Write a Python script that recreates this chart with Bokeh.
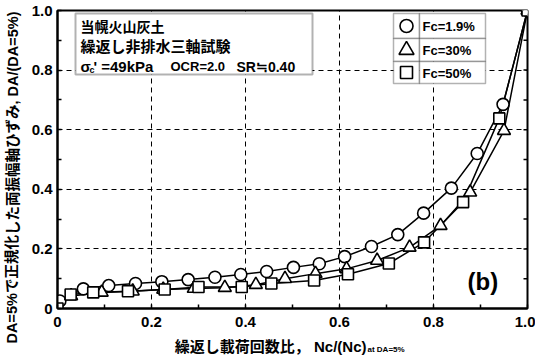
from bokeh.plotting import figure
from bokeh.models import (Range1d, LinearAxis, FixedTicker, Label, BoxAnnotation, Grid)
from bokeh.embed import file_html
from bokeh.resources import INLINE

# Normalised cycle ratio Nc/(Nc)at DA=5% and normalised double-amplitude strain DA/(DA=5%)
fc19_x = [0.005, 0.055, 0.109, 0.166, 0.222, 0.278, 0.335, 0.390, 0.445, 0.502,
          0.557, 0.611, 0.668, 0.724, 0.779, 0.838, 0.893, 0.948, 1.0]
fc19_y = [0.025, 0.066, 0.077, 0.084, 0.090, 0.097, 0.105, 0.114, 0.124, 0.138,
          0.150, 0.174, 0.208, 0.248, 0.320, 0.404, 0.520, 0.685, 1.0]

fc30_x = [0.029, 0.094, 0.160, 0.225, 0.290, 0.356, 0.422, 0.484, 0.549, 0.615,
          0.680, 0.749, 0.815, 0.878, 0.950, 1.0]
fc30_y = [0.042, 0.054, 0.058, 0.064, 0.067, 0.070, 0.080, 0.100, 0.117, 0.133,
          0.161, 0.205, 0.278, 0.390, 0.597, 1.0]

fc50_x = [0.0, 0.028, 0.076, 0.150, 0.228, 0.300, 0.392, 0.455, 0.546, 0.618,
          0.705, 0.780, 0.863, 0.940, 1.0]
fc50_y = [0.0, 0.047, 0.054, 0.058, 0.064, 0.072, 0.072, 0.084, 0.094, 0.115,
          0.151, 0.222, 0.357, 0.638, 1.0]

series_labels = ["Fc=1.9%", "Fc=30%", "Fc=50%"]
major_ticks = [0.0, 0.2, 0.4, 0.6, 0.8, 1.0]
minor_ticks = [0.1, 0.3, 0.5, 0.7, 0.9]
x_tick_text = {0.0: "0", 0.2: "0.2", 0.4: "0.4", 0.6: "0.6", 0.8: "0.8", 1.0: "1.0"}
y_tick_text = {0.0: "0", 0.2: "0.2", 0.4: "0.4", 0.6: "0.6", 0.8: "0.8", 1.0: "1.0"}

W, H = 535, 356
FL, FR, FT, FB = 57, 527, 10, 308   # frame edges in canvas pixels

LATIN = "Liberation Sans"
CJK = "Noto Sans CJK JP"
MIXED = f"{LATIN}, {CJK}"

p = figure(width=W, height=H, output_backend="svg", toolbar_location=None,
           x_range=Range1d(0, 1), y_range=Range1d(0, 1),
           min_border_left=FL, min_border_right=W - FR,
           min_border_top=FT, min_border_bottom=H - FB,
           x_axis_type=None, y_axis_type=None)
p.background_fill_color = "white"
p.border_fill_color = "white"
p.outline_line_color = "black"
p.outline_line_width = 2


def dx(px):
    return (px - FL) / (FR - FL)


def dy(py):
    return (FB - py) / (FB - FT)


def make_axis(overrides):
    ax = LinearAxis(ticker=FixedTicker(ticks=major_ticks, minor_ticks=minor_ticks))
    ax.axis_line_width = 2
    ax.major_tick_in = 4
    ax.major_tick_out = 0
    ax.minor_tick_in = 4
    ax.minor_tick_out = 0
    ax.major_tick_line_width = 1.5
    ax.minor_tick_line_width = 1.5
    ax.major_label_overrides = overrides
    ax.major_label_text_font = LATIN
    ax.major_label_text_font_style = "bold"
    ax.major_label_text_font_size = "15px"
    ax.major_label_text_color = "black"
    return ax


xa = make_axis(x_tick_text)
xa.major_label_standoff = 8
p.add_layout(xa, "below")
ya = make_axis(y_tick_text)
ya.major_label_standoff = 5
ya.major_label_orientation = "horizontal"
p.add_layout(ya, "left")

# inward ticks along the right edge of the frame
all_ticks = sorted(major_ticks[1:-1] + minor_ticks)
tick_len = 4 / (FR - FL)
p.segment(x0=[1.0] * len(all_ticks), y0=all_ticks,
          x1=[1.0 - tick_len] * len(all_ticks), y1=all_ticks,
          line_color="black", line_width=1.5)

# dashed grid
for dim in (0, 1):
    g = Grid(dimension=dim, ticker=FixedTicker(ticks=[0.2, 0.4, 0.6, 0.8]))
    g.grid_line_color = "black"
    g.grid_line_width = 1
    g.grid_line_dash = "5 4"
    p.add_layout(g)

# information box
p.add_layout(BoxAnnotation(left=dx(75), right=dx(312), top=dy(13), bottom=dy(74),
                           fill_color="white", fill_alpha=1.0,
                           line_color="black", line_width=2, level="annotation"))


def make_label(text, cx, cy, size, font=LATIN, align="left", baseline="middle",
               angle=0.0, style="bold"):
    return Label(x=dx(cx), y=dy(cy), text=text, text_font=font,
                 text_font_size=f"{size}px", text_font_style=style,
                 text_align=align, text_baseline=baseline, angle=angle,
                 text_color="black")


def put(*args, **kwargs):
    p.add_layout(make_label(*args, **kwargs))


put("当幌火山灰土", 80, 25, 14, font=CJK)
put("繰返し非排水三軸試験", 80, 45, 15, font=CJK)
put("σ", 80, 66, 15, font=LATIN)
put("c", 89, 69, 9, font=LATIN)
put("' =49kPa", 93, 66, 15, font=LATIN)
put("OCR=2.0", 170, 66, 13, font=LATIN)
put("SR≒0.40", 236, 66, 14, font=MIXED)

# legend table
rows = [(13, 38), (38, 61), (61, 83)]
for top, bot in rows:
    for left, right in ((393, 419), (419, 485)):
        p.add_layout(BoxAnnotation(left=dx(left), right=dx(right), top=dy(top),
                                   bottom=dy(bot), fill_color="white", fill_alpha=1.0,
                                   line_color="black", line_width=1.5,
                                   level="annotation"))

markers = ["circle", "triangle", "square"]
sizes = [12, 13, 11]
leg_sizes = [13, 15, 12]

# curves
for xs, ys in zip([fc19_x, fc30_x, fc50_x], [fc19_y, fc30_y, fc50_y]):
    p.line(xs, ys, line_color="black", line_width=1.5)
for xs, ys, m, s in zip([fc19_x, fc30_x, fc50_x], [fc19_y, fc30_y, fc50_y], markers, sizes):
    p.scatter(xs, ys, marker=m, size=s, fill_color="white",
              line_color="black", line_width=1.6)

# legend symbols and entries drawn on top of the table
for (top, bot), m, s, lab in zip(rows, markers, leg_sizes, series_labels):
    cy = (top + bot) / 2
    r = p.scatter([dx(406)], [dy(cy)], marker=m, size=s, fill_color="white",
                  line_color="black", line_width=1.6)
    r.level = "overlay"
    put(lab, 422, cy + 0.5, 13, font=LATIN)

put("(b)", 467, 281, 24, font=LATIN)

# axis titles, placed in side panels outside the frame
# (positions are in data units, so the hosting panel only matters for its size)
p.add_layout(make_label("DA=5%で正規化した両振幅軸ひずみ, DA/(DA=5%)", 12, 177, 14.5,
                        font=MIXED, align="center", angle=1.5707963), "left")
p.add_layout(make_label("at DA=5%", 367, 349, 8, font=LATIN), "above")
p.add_layout(make_label("繰返し載荷回数比， Nc/(Nc)", 366, 346, 15, font=MIXED,
                        align="right"), "below")

open("out.html", "w").write(file_html(p, INLINE))
